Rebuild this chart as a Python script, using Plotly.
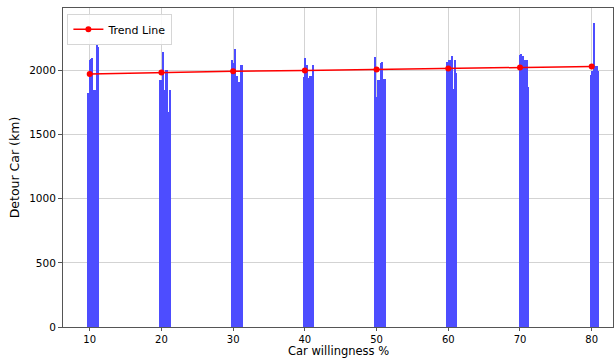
import plotly.graph_objects as go

# Bar clusters (x position, detour value) per willingness level
c10_x = [9.8, 10.0, 10.2, 10.4, 10.6, 10.8, 11.0, 11.2]
c10_y = [1828, 2084, 2090, 2097, 1849, 1849, 2201, 2183]
c20_x = [19.8, 20.0, 20.2, 20.4, 20.6, 20.8, 21.0, 21.2]
c20_y = [1927, 1927, 2141, 1849, 2005, 2005, 1680, 1849]
c30_x = [29.9, 30.1, 30.3, 30.5, 30.7, 30.9, 31.1, 31.2]
c30_y = [2078, 2062, 2167, 1953, 1870, 1914, 2045, 2045]
c40_x = [39.9, 40.1, 40.3, 40.5, 40.7, 40.9, 41.1, 41.2]
c40_y = [1950, 2097, 2045, 1940, 1960, 1960, 2045, 2045]
c50_x = [49.8, 50.0, 50.2, 50.4, 50.6, 50.8, 51.0, 51.2]
c50_y = [2105, 1797, 1927, 1927, 2058, 2066, 1932, 1932]
c60_x = [59.9, 60.1, 60.3, 60.5, 60.7, 60.9, 61.1]
c60_y = [2063, 2078, 2078, 2110, 1855, 2084, 1979]
c70_x = [70.0, 70.2, 70.4, 70.6, 70.8, 71.0, 71.1]
c70_y = [2123, 2128, 2110, 2084, 2078, 2078, 1875]
c80_x = [79.9, 80.1, 80.3, 80.5, 80.7, 80.9]
c80_y = [1967, 1992, 2370, 2037, 2037, 1992]

# Trend line
trend_x = [10, 20, 30, 40, 50, 60, 70, 80]
trend_y = [1972, 1985, 1993, 2000, 2008, 2016, 2024, 2031]

x_ticks = [10, 20, 30, 40, 50, 60, 70, 80]
y_ticks = [0, 500, 1000, 1500, 2000]

bar_x = c10_x + c20_x + c30_x + c40_x + c50_x + c60_x + c70_x + c80_x
bar_y = c10_y + c20_y + c30_y + c40_y + c50_y + c60_y + c70_y + c80_y

fig = go.Figure()
fig.add_trace(go.Bar(
    x=bar_x, y=bar_y, width=0.2,
    marker=dict(color="#4d4dff", line=dict(width=0)),
    showlegend=False, hoverinfo="x+y",
))
fig.add_trace(go.Scatter(
    x=trend_x, y=trend_y, mode="lines+markers", name="Trend Line",
    line=dict(color="#ff0000", width=1.5),
    marker=dict(color="#ff0000", size=6),
))

font = "DejaVu Sans, Arial, sans-serif"
fig.update_layout(
    width=614, height=358,
    margin=dict(l=63, r=1, t=8, b=31),
    paper_bgcolor="white", plot_bgcolor="white",
    barmode="overlay", bargap=0,
    font=dict(family=font, size=11, color="#000000"),
    legend=dict(
        x=0.008, y=0.982, xanchor="left", yanchor="top",
        bgcolor="rgba(255,255,255,0.85)", bordercolor="#d6d6d6", borderwidth=1,
        font=dict(size=11), itemwidth=30, tracegroupgap=0,
    ),
    annotations=[dict(
        text="Car willingness %", xref="paper", yref="paper",
        x=0.5, y=-0.0757, xanchor="center", yanchor="middle",
        showarrow=False, font=dict(size=11.5, family=font, color="#000000"),
    )],
)
fig.update_xaxes(
    range=[6.275, 82.97], tickvals=x_ticks, ticktext=[str(v) for v in x_ticks],
    showgrid=True, gridcolor="#d3d3d3", gridwidth=1,
    showline=True, linecolor="#555555", linewidth=1, mirror=True,
    ticks="outside", ticklen=3, tickcolor="#555555",
    tickfont=dict(size=10), automargin=False,
    zeroline=False,
)
fig.update_yaxes(
    range=[0, 2487], tickvals=y_ticks, ticktext=[str(v) for v in y_ticks],
    showgrid=True, gridcolor="#d3d3d3", gridwidth=1,
    showline=True, linecolor="#555555", linewidth=1, mirror=True,
    ticks="outside", ticklen=4, tickcolor="#555555",
    tickfont=dict(size=10.5), automargin=False,
    title=dict(text="Detour Car (km)", font=dict(size=12.5), standoff=6),
    zeroline=False,
)

fig.write_html(
    "out.html",
    config={"displayModeBar": False},
    post_script="document.body.style.margin='0';document.body.style.padding='0';document.body.style.overflow='hidden';",
)
